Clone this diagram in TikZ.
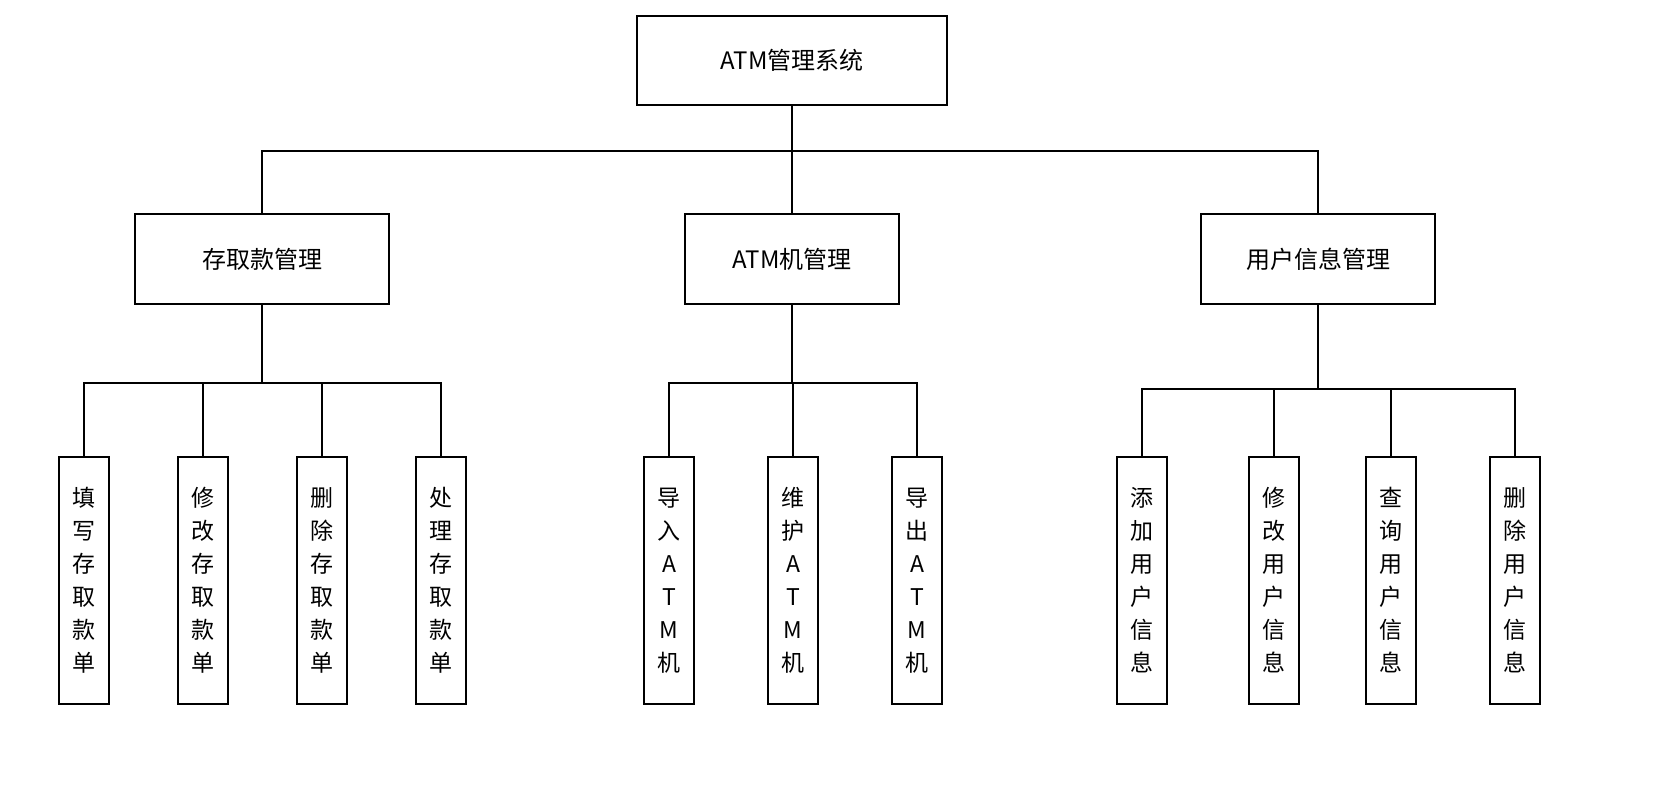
\documentclass[tikz,border=0pt]{standalone}
\usepackage{fontspec}
\setmainfont{Noto Sans CJK SC}
\begin{document}
\begin{tikzpicture}[x=1pt,y=-1pt,
 box/.style={draw,line width=1.5pt,inner sep=0pt,font=\fontsize{24}{30}\selectfont},
 leaf/.style={draw,line width=1.5pt,inner sep=0pt,minimum width=50pt,minimum height=247pt,align=center,font=\fontsize{23}{33}\selectfont},
 ln/.style={line width=1.5pt}]
\useasboundingbox (0,0) rectangle (1667,800);
\node[box,minimum width=310pt,minimum height=89pt] (r) at (792,60.5) {ATM管理系统};
\node[box,minimum width=254pt,minimum height=90pt] (a) at (262,259) {存取款管理};
\node[box,minimum width=214pt,minimum height=90pt] (b) at (792,259) {ATM机管理};
\node[box,minimum width=234pt,minimum height=90pt] (c) at (1318,259) {用户信息管理};
\foreach \n/\x/\t in {a1/84/填\\写\\存\\取\\款\\单, a2/203/修\\改\\存\\取\\款\\单, a3/322/删\\除\\存\\取\\款\\单, a4/441/处\\理\\存\\取\\款\\单,
 b1/669/导\\入\\A\\T\\M\\机, b2/793/维\\护\\A\\T\\M\\机, b3/917/导\\出\\A\\T\\M\\机,
 c1/1142/添\\加\\用\\户\\信\\息, c2/1274/修\\改\\用\\户\\信\\息, c3/1391/查\\询\\用\\户\\信\\息, c4/1515/删\\除\\用\\户\\信\\息}
 \node[leaf] (\n) at (\x,580.5) {\t};
\coordinate (rb) at (792,151);
\draw[ln] (r.south) -- (rb);
\foreach \n in {a,b,c} \draw[ln] (rb) -| (\n.north);
\coordinate (ab) at (262,383);
\draw[ln] (a.south) -- (ab);
\foreach \n in {a1,a2,a3,a4} \draw[ln] (ab) -| (\n.north);
\coordinate (bb) at (792,383);
\draw[ln] (b.south) -- (bb);
\foreach \n in {b1,b2,b3} \draw[ln] (bb) -| (\n.north);
\coordinate (cb) at (1318,389);
\draw[ln] (c.south) -- (cb);
\foreach \n in {c1,c2,c3,c4} \draw[ln] (cb) -| (\n.north);
\end{tikzpicture}
\end{document}
